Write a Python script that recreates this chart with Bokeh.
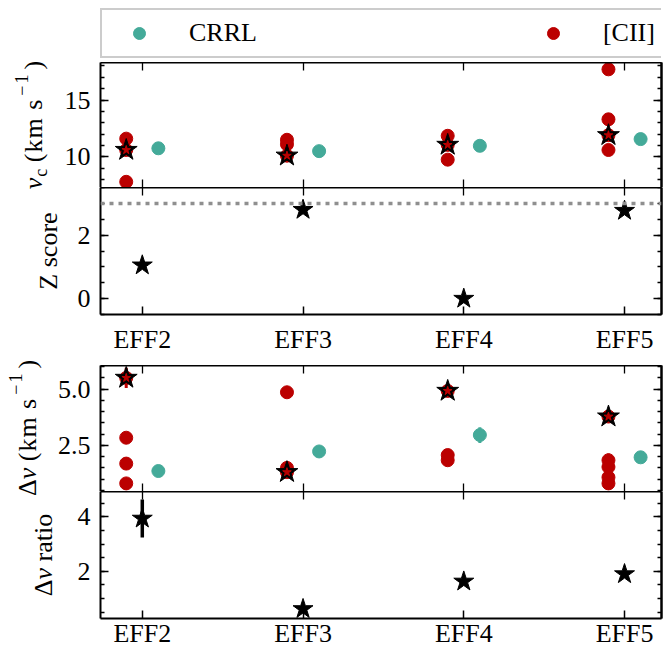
import numpy as np
from bokeh.plotting import figure
from bokeh.models import (Range1d, FixedTicker, LinearAxis, Legend, LegendItem,
                          Span, ColumnDataSource, PrintfTickFormatter, Div)
from bokeh.layouts import column, row
from bokeh.embed import file_html
from bokeh.resources import INLINE

# ---------------- data ----------------
categories = ["EFF2", "EFF3", "EFF4", "EFF5"]

# [CII] component centroid velocities (km/s)
cii_vc_field = ["EFF2", "EFF2", "EFF2", "EFF3", "EFF3", "EFF3",
                "EFF4", "EFF4", "EFF4", "EFF5", "EFF5", "EFF5", "EFF5"]
cii_vc = [11.6, 10.6, 7.8, 11.5, 11.1, 10.1, 11.85, 11.05, 9.75, 17.7, 13.3, 11.9, 10.6]
cii_vc_err = [0.1, 0.1, 0.1, 0.1, 0.1, 0.1, 0.1, 0.1, 0.1, 0.15, 0.15, 0.1, 0.1]

# CRRL centroid velocities (km/s)
crrl_vc = [10.75, 10.5, 10.97, 11.56]
crrl_vc_err = [0.1, 0.1, 0.1, 0.1]

# matched [CII] component (star) velocities and Z score
star_vc = [10.6, 10.1, 11.05, 11.9]
z_score = [1.05, 2.8, 0.0, 2.77]
z_threshold = 3.0

# line widths (km/s)
cii_dv_field = ["EFF2", "EFF2", "EFF2", "EFF2", "EFF3", "EFF3", "EFF3",
                "EFF4", "EFF4", "EFF4", "EFF5", "EFF5", "EFF5", "EFF5", "EFF5"]
cii_dv = [5.5, 2.84, 1.69, 0.81, 4.86, 1.5, 1.31, 4.92, 2.07, 1.84, 3.78, 1.84, 1.54, 1.08, 0.81]
cii_dv_err = [0.45, 0.1, 0.1, 0.1, 0.1, 0.15, 0.1, 0.1, 0.15, 0.15, 0.1, 0.3, 0.2, 0.2, 0.15]
crrl_dv = [1.36, 2.23, 2.96, 1.97]
crrl_dv_err = [0.1, 0.2, 0.35, 0.1]
star_dv = [5.5, 1.31, 4.92, 3.78]
dv_ratio = [3.94, 0.62, 1.63, 1.9]
dv_ratio_err = [0.7, 0.1, 0.1, 0.1]

# ---------------- style ----------------
FONT = "Liberation Serif"
C_CII = "#BB0000"
C_CRRL = "#44AA99"
OFF = 0.1
FS = "26px"
W, FRAME_LEFT, BR = 665, 100, 4

idx = {c: i for i, c in enumerate(categories)}
xr = Range1d(-0.26, 3.23)


def xpos(fields, off):
    return [idx[f] + off for f in fields]


def err_source(x, y, e):
    y = np.asarray(y, float)
    e = np.asarray(e, float)
    return ColumnDataSource(dict(x=x, y=y, lo=y - e, hi=y + e))


def new_fig(dw, frame_h, yr, top, bottom):
    p = figure(width=W - dw, height=top + frame_h + bottom, x_range=xr, y_range=Range1d(*yr),
               output_backend="svg", toolbar_location=None,
               x_axis_location=None, y_axis_location=None,
               min_border=0, min_border_left=FRAME_LEFT - dw, min_border_right=BR,
               min_border_top=top, min_border_bottom=bottom)
    p.grid.visible = False
    p.outline_line_color = None
    return p


def base_axis(ax, line):
    ax.major_tick_in = 8
    ax.major_tick_out = 0
    ax.minor_tick_out = 0
    ax.major_tick_line_width = 1.5
    ax.minor_tick_line_width = 1.3
    ax.major_tick_line_color = "black"
    ax.minor_tick_line_color = "black"
    ax.axis_line_width = 2
    ax.axis_line_color = "black" if line else None
    ax.major_label_text_font = FONT
    ax.major_label_text_font_size = FS
    ax.major_label_text_color = "black"


def plain_ticks(p, place, positions, length, line):
    ax = LinearAxis(ticker=FixedTicker(ticks=[], minor_ticks=list(positions)))
    base_axis(ax, line)
    ax.minor_tick_in = length
    ax.major_label_standoff = 0
    p.add_layout(ax, place)
    return ax


def labelled_axis(p, place, ticks, minor, standoff, fmt=None, overrides=None):
    ax = LinearAxis(ticker=FixedTicker(ticks=list(ticks), minor_ticks=list(minor)))
    base_axis(ax, True)
    ax.minor_tick_in = 4
    ax.major_label_standoff = standoff
    if fmt is not None:
        ax.formatter = fmt
    if overrides is not None:
        ax.major_label_overrides = overrides
    p.add_layout(ax, place)
    return ax


def setup_axes(p, yticks, yminor, xlabels, top_line, bottom_line, fmt=None, xstandoff=10):
    xt = list(range(len(categories)))
    over = {i: c for i, c in enumerate(categories)}
    plain_ticks(p, "above", xt, 8, top_line)
    if xlabels:
        labelled_axis(p, "below", xt, [], xstandoff, overrides=over)
    else:
        plain_ticks(p, "below", xt, 8, bottom_line)
    labelled_axis(p, "left", yticks, yminor, 10, fmt=fmt)
    plain_ticks(p, "right", yticks, 8, True)
    plain_ticks(p, "right", yminor, 4, True)


def ylabel_div(html, dw, h, xb, yc):
    left = xb - 21.8
    inner = ('<div style="position:relative;width:%dpx;height:%dpx;">'
             '<div style="position:absolute;left:%.1fpx;top:%.1fpx;transform-origin:0 0;'
             'transform:rotate(-90deg) translate(-50%%,0);white-space:nowrap;'
             "font-family:'Liberation Serif','Times New Roman',serif;font-size:26px;"
             'line-height:26px;color:black;">'
             '%s</div></div>') % (dw, h, left, yc, html)
    return Div(text=inner, width=dw, height=h, margin=0)


SUB = '<sub style="font-size:18px;vertical-align:-5px;line-height:0;margin-left:1px">%s</sub>'
SUP = ('<sup style="font-size:18px;vertical-align:14px;line-height:0;'
       'margin-left:3px;margin-right:3px;letter-spacing:2px">%s</sup>')
UNIT = ' <span style="letter-spacing:1px">(km s</span>' + SUP % "&minus;1" + ")"

HA, HB, HC, HD = 125, 127, 126, 128
BOT_B, BOT_D = 51, 31
x_c = xpos(categories, OFF)
x_s = xpos(categories, -OFF)
x_0 = list(range(len(categories)))

# ---------------- legend strip ----------------
pL = figure(width=W, height=62, x_range=xr, y_range=Range1d(0, 1),
            output_backend="svg", toolbar_location=None,
            x_axis_location=None, y_axis_location=None, min_border=0,
            min_border_left=FRAME_LEFT, min_border_right=BR)
pL.grid.visible = False
pL.outline_line_color = None
# legend proxies (their values fall outside this strip's range, so only the legend shows them)
lg_crrl = pL.scatter(x_c, crrl_vc, size=13, color=C_CRRL)
lg_cii = pL.scatter(xpos(cii_vc_field, -OFF), cii_vc, size=13, color=C_CII)
legend = Legend(items=[LegendItem(label="CRRL", renderers=[lg_crrl]),
                       LegendItem(label="[CII]", renderers=[lg_cii])],
                orientation="horizontal", location=(0, 4),
                glyph_width=58, glyph_height=30, label_standoff=21, spacing=267,
                padding=8, margin=0, label_text_font=FONT, label_text_font_size=FS,
                label_text_color="black",
                border_line_color="#cccccc", border_line_width=2, border_line_alpha=1.0)
pL.add_layout(legend, "center")

# ---------------- panel A: v_c ----------------
dwA = 56
pA = new_fig(dwA, HA, (7.3, 18.3), 0, 0)
setup_axes(pA, [10, 15], range(8, 19), False, top_line=True, bottom_line=False)
sA_crrl = err_source(x_c, crrl_vc, crrl_vc_err)
sA_cii = err_source(xpos(cii_vc_field, -OFF), cii_vc, cii_vc_err)
pA.segment("x", "lo", "x", "hi", source=sA_crrl, line_color=C_CRRL, line_width=3)
pA.scatter("x", "y", source=sA_crrl, size=13, color=C_CRRL)
pA.segment("x", "lo", "x", "hi", source=sA_cii, line_color=C_CII, line_width=3)
pA.scatter("x", "y", source=sA_cii, size=13, color=C_CII)
pA.scatter(x_s, star_vc, marker="star", size=23, color="black")
pA.scatter(x_s, star_vc, marker="star", size=9, color=C_CII)
dA = ylabel_div("<i>v</i>" + SUB % "c" + UNIT, dwA, HA, 43, HA / 2)

# ---------------- panel B: Z score ----------------
dwB = 66
pB = new_fig(dwB, HB, (-0.5, 3.5), 0, BOT_B)
setup_axes(pB, [0, 2], np.arange(-0.5, 3.51, 0.5), True, top_line=True, bottom_line=True)
pB.add_layout(Span(location=z_threshold, dimension="width", line_color="#8f8f8f",
                   line_width=3.5, line_dash="4 5"))
pB.scatter(x_0, z_score, marker="star", size=21, color="black")
dB = ylabel_div("Z score", dwB, HB + BOT_B, 58, HB / 2)

# ---------------- panel C: delta v ----------------
dwC = 48
pC = new_fig(dwC, HC, (0.45, 6.05), 0, 0)
setup_axes(pC, [2.5, 5.0], np.arange(0.5, 6.01, 0.5), False, top_line=True,
           bottom_line=False, fmt=PrintfTickFormatter(format="%.1f"))
sC_crrl = err_source(x_c, crrl_dv, crrl_dv_err)
sC_cii = err_source(xpos(cii_dv_field, -OFF), cii_dv, cii_dv_err)
pC.segment("x", "lo", "x", "hi", source=sC_crrl, line_color=C_CRRL, line_width=3)
pC.scatter("x", "y", source=sC_crrl, size=13, color=C_CRRL)
pC.segment("x", "lo", "x", "hi", source=sC_cii, line_color=C_CII, line_width=3)
pC.scatter("x", "y", source=sC_cii, size=13, color=C_CII)
pC.scatter(x_s, star_dv, marker="star", size=23, color="black")
pC.scatter(x_s, star_dv, marker="star", size=9, color=C_CII)
dC = ylabel_div("&Delta;<i>v</i>" + UNIT, dwC, HC, 37, HC / 2)

# ---------------- panel D: delta v ratio ----------------
dwD = 60
pD = new_fig(dwD, HD, (0.27, 4.93), 0, BOT_D)
setup_axes(pD, [2, 4], np.arange(0.5, 4.91, 0.5), True, top_line=True,
           bottom_line=True, xstandoff=0)
sD = err_source(x_0, dv_ratio, dv_ratio_err)
pD.segment("x", "lo", "x", "hi", source=sD, line_color="black", line_width=3.5)
pD.scatter("x", "y", source=sD, marker="star", size=21, color="black")
dD = ylabel_div("&Delta;<i>v</i> ratio", dwD, HD + BOT_D, 53, HD / 2)

layout = column(pL, row(dA, pA), row(dB, pB), row(dC, pC), row(dD, pD), spacing=0)
open("out.html", "w").write(file_html(layout, INLINE))
